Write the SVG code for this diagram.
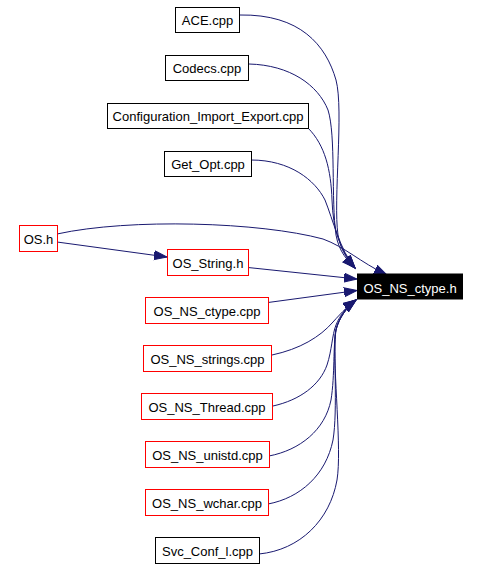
<svg xmlns="http://www.w3.org/2000/svg" width="480" height="568" viewBox="0 0 480 568">
<defs>
<style>
.n rect{fill:#fff;stroke:#000;stroke-width:1}
.n.r rect{stroke:#ff0000}
.n text{font-family:"Liberation Sans",Arial,sans-serif;font-size:13px;fill:#000;text-anchor:middle}
.n.t rect{fill:#000;stroke:#000}
.n.t text{fill:#fff}
.e path{fill:none;stroke:#191970;stroke-width:1;marker-end:url(#ah)}
</style>
<marker id="ah" markerUnits="userSpaceOnUse" markerWidth="15" markerHeight="11" refX="13" refY="5" orient="auto">
<path d="M0,0.5 L13,5 L0,9.5 z" fill="#191970" stroke="#191970" stroke-width="1"/>
</marker>
</defs>
<rect width="480" height="568" fill="#fff"/>
<g class="e" id="edges">
<path d="M240,15 C300,14 326,45 336,80 C344,110 333,200 338,235 C341,252 349,261 355,268"/>
<path d="M249,64 C290,65 318,85 328,110 C336,135 331,200 336,235 C339,252 348,261 355,268"/>
<path d="M308,128 C325,145 331,170 332,200 C333,230 340,250 355,268"/>
<path d="M251,160 C290,160 315,180 325,200 C333,220 340,250 355,268"/>
<path d="M57,234 C130,218 260,222 323,239 C345,247 360,262 387,275"/>
<path d="M57,242 L167,257"/>
<path d="M248,267.5 L357,279"/>
<path d="M268,302.5 L357,290.5"/>
<path d="M272,355 C300,349 320,337 333,322 C342,312 349,305 356,300"/>
<path d="M273,406 C300,400 320,385 327,365 C332,350 332,335 336,325 C340,315 347,306 356,300"/>
<path d="M269,456 C300,450 325,430 331,400 C335,375 333,345 336,330 C339,318 347,307 356,300"/>
<path d="M268,504 C300,498 326,475 333,440 C338,410 333,350 336,330 C339,318 347,307 356,300"/>
<path d="M259,554 C300,550 330,520 337,480 C342,450 333,370 335,335 C337,318 347,307 356,300"/>
</g>
<g class="n" id="ace"><rect x="175.5" y="7.5" width="64" height="25"/><text x="207.5" y="25">ACE.cpp</text></g>
<g class="n" id="codecs"><rect x="165.5" y="55.5" width="83" height="25"/><text x="207" y="73">Codecs.cpp</text></g>
<g class="n" id="config"><rect x="107.5" y="103.5" width="201" height="25"/><text x="208" y="121">Configuration_Import_Export.cpp</text></g>
<g class="n" id="getopt"><rect x="164.5" y="151.5" width="87" height="25"/><text x="208" y="169">Get_Opt.cpp</text></g>
<g class="n r" id="osh"><rect x="19.5" y="225.5" width="38" height="26"/><text x="38.5" y="243.5">OS.h</text></g>
<g class="n r" id="osstring"><rect x="167.5" y="249.5" width="81" height="26"/><text x="208" y="268">OS_String.h</text></g>
<g class="n t" id="target"><rect x="357.5" y="274" width="105" height="25"/><text x="410" y="292.5">OS_NS_ctype.h</text></g>
<g class="n r" id="ctypecpp"><rect x="145.5" y="297.5" width="123" height="26"/><text x="207" y="316">OS_NS_ctype.cpp</text></g>
<g class="n r" id="strings"><rect x="143.5" y="345.5" width="128" height="26"/><text x="207.5" y="364">OS_NS_strings.cpp</text></g>
<g class="n r" id="thread"><rect x="141.5" y="393.5" width="131" height="26"/><text x="207" y="412">OS_NS_Thread.cpp</text></g>
<g class="n r" id="unistd"><rect x="145.5" y="441.5" width="124" height="26"/><text x="207.5" y="460">OS_NS_unistd.cpp</text></g>
<g class="n r" id="wchar"><rect x="145.5" y="489.5" width="123" height="26"/><text x="207" y="508">OS_NS_wchar.cpp</text></g>
<g class="n" id="svc"><rect x="155.5" y="537.5" width="104" height="26"/><text x="207.5" y="556">Svc_Conf_l.cpp</text></g>
</svg>
